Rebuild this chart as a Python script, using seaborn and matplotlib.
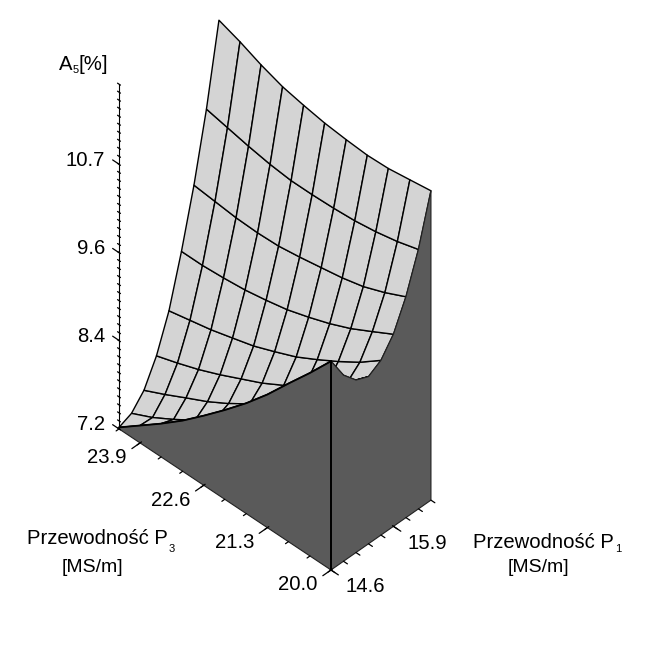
import matplotlib

matplotlib.use("Agg")
import matplotlib.pyplot as plt
import numpy as np
import seaborn as sns
from mpl_toolkits.mplot3d import proj3d
from mpl_toolkits.mplot3d.art3d import Poly3DCollection

# grid of the surface
p1_grid = [14.6, 14.86, 15.12, 15.38, 15.64, 15.9, 16.16, 16.42, 16.68]
p3_grid = [20.0, 20.43, 20.87, 21.3, 21.73, 22.17, 22.6, 23.03, 23.47, 23.9, 24.33]

# A5, one list per P1 value, P3 going up
a5_p1_1460 = [9.96, 9.62, 9.29, 8.96, 8.66, 8.38, 8.12, 7.87, 7.64, 7.43, 7.22]
a5_p1_1486 = [9.66, 9.25, 8.95, 8.70, 8.45, 8.20, 7.97, 7.76, 7.58, 7.42, 7.29]
a5_p1_1512 = [9.48, 9.12, 8.84, 8.62, 8.42, 8.23, 8.05, 7.89, 7.75, 7.61, 7.48]
a5_p1_1538 = [9.41, 9.15, 8.92, 8.72, 8.55, 8.39, 8.26, 8.13, 8.01, 7.91, 7.82]
a5_p1_1564 = [9.51, 9.30, 9.12, 8.96, 8.81, 8.69, 8.58, 8.50, 8.42, 8.36, 8.30]
a5_p1_1590 = [9.74, 9.59, 9.44, 9.32, 9.22, 9.13, 9.07, 9.02, 8.99, 8.97, 8.97]
a5_p1_1616 = [10.12, 9.99, 9.88, 9.81, 9.76, 9.71, 9.67, 9.66, 9.67, 9.70, 9.73]
a5_p1_1642 = [10.63, 10.55, 10.49, 10.45, 10.43, 10.42, 10.42, 10.45, 10.50, 10.56, 10.62]
a5_p1_1668 = [11.29, 11.25, 11.21, 11.20, 11.22, 11.25, 11.30, 11.36, 11.46, 11.58, 11.68]

# ticks
p1_major = [14.6, 15.9]
p1_major_labels = ["14.6", "15.9"]
p3_major = [20.0, 21.3, 22.6, 23.9]
p3_major_labels = ["20.0", "21.3", "22.6", "23.9"]
a5_major = [7.2, 8.37, 9.53, 10.7]
a5_major_labels = ["7.2", "8.4", "9.6", "10.7"]
a5_base = 7.2
a5_top = 11.76

W, H = 664, 646

sns.set_theme(style="white")
plt.rcParams["font.family"] = ["Liberation Sans", "DejaVu Sans"]
light, dark = sns.color_palette(["#D4D4D4", "#5A5A5A"])

a5 = np.array(
    [
        a5_p1_1460,
        a5_p1_1486,
        a5_p1_1512,
        a5_p1_1538,
        a5_p1_1564,
        a5_p1_1590,
        a5_p1_1616,
        a5_p1_1642,
        a5_p1_1668,
    ]
)
X, Y = np.meshgrid(p1_grid, p3_grid, indexing="ij")
p1_lo, p1_hi = p1_grid[0], p1_grid[-1]
p3_lo, p3_hi = p3_grid[0], p3_grid[-1]

fig = plt.figure(figsize=(W / 100, H / 100), dpi=100, facecolor="white")
ax = fig.add_axes([0, 0, 1, 1], projection="3d", proj_type="ortho", computed_zorder=False)
ax.set_axis_off()
ax.patch.set_alpha(0)

surf = ax.plot_surface(
    X, Y, a5, rstride=1, cstride=1, color=light, edgecolor="black", linewidth=1.0, shade=False, zorder=1
)
surf.set_clip_on(False)

# the two dark side walls go over the surface
wall_p1 = [(p1_lo, p3, z) for p3, z in zip(p3_grid, a5[0])] + [(p1_lo, p3_hi, a5_base), (p1_lo, p3_lo, a5_base)]
wall_p3 = [(p1, p3_lo, z) for p1, z in zip(p1_grid, a5[:, 0])] + [(p1_hi, p3_lo, a5_base), (p1_lo, p3_lo, a5_base)]
ax.add_collection3d(Poly3DCollection([wall_p1, wall_p3], facecolor=dark, edgecolor="#222222", linewidth=0.8, zorder=2))

# front edge and outlines
ax.plot([p1_lo, p1_lo], [p3_lo, p3_lo], [a5_base, a5[0, 0]], color="black", lw=1.4, zorder=3)
ax.plot(a5[0] * 0 + p1_lo, p3_grid, a5[0], color="black", lw=1.3, zorder=3)
ax.plot([p1_lo, p1_lo], [p3_hi, p3_hi], [a5_base, a5_top], color="black", lw=0.8, zorder=3)

# minor and major ticks
for z in np.arange(a5_base, a5_top, 0.106):
    ax.plot([p1_lo, p1_lo], [p3_hi + 0.03, p3_hi - 0.03], [z, z], color="black", lw=0.9, zorder=3)
for z in a5_major:
    ax.plot([p1_lo, p1_lo], [p3_hi + 0.13, p3_hi], [z, z], color="black", lw=0.9, zorder=3)
for p3 in p3_grid:
    ax.plot([p1_lo - 0.06, p1_lo], [p3, p3], [a5_base, a5_base], color="black", lw=0.9, zorder=3)
for p3 in p3_major:
    ax.plot([p1_lo - 0.17, p1_lo + 0.03], [p3, p3], [a5_base, a5_base], color="black", lw=0.9, zorder=3)
for p1 in p1_grid:
    ax.plot([p1, p1], [p3_lo - 0.08, p3_lo], [a5_base, a5_base], color="black", lw=0.9, zorder=3)
for p1 in p1_major:
    ax.plot([p1, p1], [p3_lo - 0.15, p3_lo + 0.02], [a5_base, a5_base], color="black", lw=0.9, zorder=3)

ax.set_xlim(p1_lo, p1_hi, view_margin=0)
ax.set_ylim(p3_lo, p3_hi, view_margin=0)
ax.set_zlim(a5_base, a5[-1, -1], view_margin=0)
ax.set_box_aspect((143, 296, 463))
ax.view_init(elev=43, azim=224.3)

# fit the square axes so the base corners land where they belong
M = ax.get_proj()
fx, fy, _ = proj3d.proj_transform(p1_lo, p3_lo, a5_base, M)
lx, ly, _ = proj3d.proj_transform(p1_lo, p3_hi, a5_base, M)
k = (331 - 119) / (fx - lx)
vx0, vx1 = ax.viewLim.intervalx
vy0, vy1 = ax.viewLim.intervaly
side_w = k * (vx1 - vx0)
side_h = k * (vy1 - vy0)
left = 331 - k * (fx - vx0)
bottom = (H - 570) - k * (fy - vy0)
ax.set_position([left / W, bottom / H, side_w / W, side_h / H])
ax.set_anchor("SW")


def tick_label(text, p1, p3, z, dx, dy, ha="center"):
    x2, y2, _ = proj3d.proj_transform(p1, p3, z, M)
    ax.annotate(
        text, xy=(x2, y2), xytext=(dx, dy), textcoords="offset pixels", ha=ha, va="center",
        fontsize=14.6, color="black", annotation_clip=False,
    )


for val, lab in zip(a5_major, a5_major_labels):
    tick_label(lab, p1_lo, p3_hi, val, -14, 4, ha="right")
for val, lab in zip(p3_major, p3_major_labels):
    tick_label(lab, p1_lo, val, a5_base, -33, -15)
for val, lab in zip(p1_major, p1_major_labels):
    tick_label(lab, val, p3_lo, a5_base, 34, -17)


def label(x, y, text, size=14.6, ha="left"):
    fig.text(x / W, 1 - y / H, text, fontsize=size, ha=ha, va="center", color="black")


label(59, 65, "A")
label(73, 70, "5", size=8)
label(79, 65, "[%]")
label(27, 539, "Przewodność P")
label(169, 549, "3", size=8)
label(62, 567, "[MS/m]", size=14)
label(473, 543, "Przewodność P")
label(615, 549, "1", size=8)
label(508, 567, "[MS/m]", size=14)

fig.savefig("out.png", dpi=100, facecolor="white")
